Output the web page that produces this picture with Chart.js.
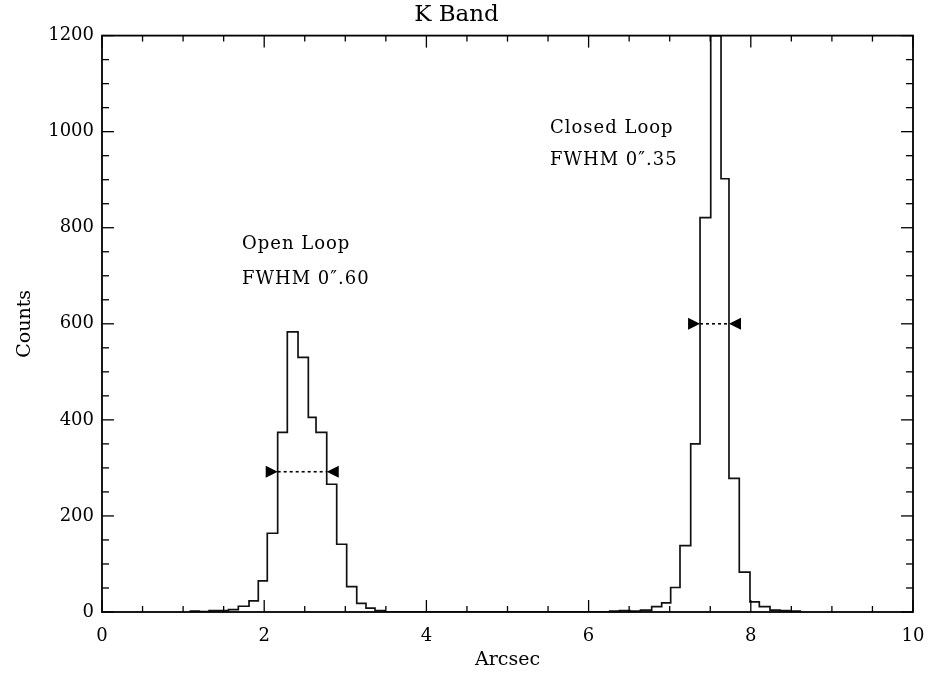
<!DOCTYPE html>
<html><head><meta charset="utf-8">
<script src="https://cdn.jsdelivr.net/npm/chart.js@4.4.1/dist/chart.umd.min.js"></script>
<style>html,body{margin:0;padding:0;background:#fff;}#wrap{width:930px;height:673px;}</style>
</head><body><div id="wrap"><canvas id="c" width="930" height="673"></canvas></div>
<script>
// Histogram bin edges (arcsec) and counts per bin (value i spans edge i .. edge i+1)
const binEdges = [1.08, 1.20, 1.32, 1.44, 1.56, 1.681, 1.813, 1.927, 2.038, 2.166, 2.285, 2.417, 2.544, 2.639, 2.771, 2.894, 3.017, 3.141, 3.255, 3.366, 3.49,
                  6.26, 6.38, 6.51, 6.64, 6.778, 6.901, 7.012, 7.127, 7.259, 7.374, 7.506, 7.633, 7.731, 7.858, 7.990, 8.105, 8.237, 8.36, 8.48, 8.61];
const binCounts = [2, 1, 3, 3, 5, 12, 23, 65, 164, 374, 583, 530, 405, 374, 266, 141, 53, 18, 8, 3, 0,
                   2, 3, 2, 4, 11, 19, 51, 138, 350, 821, 1200, 902, 278, 83, 21, 11, 4, 3, 2];
const xTickLabels = [0, 2, 4, 6, 8, 10];
const yTickLabels = [0, 200, 400, 600, 800, 1000, 1200];
// FWHM markers: level (counts), left and right half-maximum positions (arcsec)
const fwhmLevel = [292, 600];
const fwhmLeft  = [2.166, 7.374];
const fwhmRight = [2.771, 7.731];
const peakNames = ["Open Loop", "Closed Loop"];
const peakFwhm  = ["FWHM 0\u2033.60", "FWHM 0\u2033.35"];

const points = binEdges.map((e, i) => ({x: e, y: i < binCounts.length ? binCounts[i] : 0}));
const SERIF = "'DejaVu Serif', 'Liberation Serif', serif";

const framePlugin = {
  id: 'frame',
  afterDatasetsDraw(chart, args, opts) {
    const {ctx, chartArea: a, scales: {x, y}} = chart;
    ctx.save();
    ctx.strokeStyle = '#000';
    const seg = (x1, y1, x2, y2) => { ctx.beginPath(); ctx.moveTo(x1, y1); ctx.lineTo(x2, y2); ctx.stroke(); };
    // tick marks (inward, all four sides)
    ctx.lineWidth = 1.3;
    for (let k = 0; k <= 20; k++) {
      const v = k * 0.5, px = x.getPixelForValue(v), L = (k % 4 === 0) ? 12 : 6;
      seg(px, a.bottom, px, a.bottom - L); seg(px, a.top, px, a.top + L);
    }
    for (let k = 0; k <= 24; k++) {
      const v = k * 50, py = y.getPixelForValue(v), L = (k % 4 === 0) ? 12 : 7;
      seg(a.left, py, a.left + L, py); seg(a.right, py, a.right - L, py);
    }
    // frame
    ctx.lineWidth = 1.8;
    ctx.strokeRect(a.left, a.top, a.right - a.left, a.bottom - a.top);
    // FWHM arrows
    ctx.fillStyle = '#000';
    fwhmLevel.forEach((lv, i) => {
      const py = y.getPixelForValue(lv);
      const xl = x.getPixelForValue(fwhmLeft[i]), xr = x.getPixelForValue(fwhmRight[i]);
      ctx.lineWidth = 1.6; ctx.setLineDash([3, 3]);
      seg(xl, py, xr, py);
      ctx.setLineDash([]);
      ctx.beginPath(); ctx.moveTo(xl, py); ctx.lineTo(xl - 12, py - 6); ctx.lineTo(xl - 12, py + 6); ctx.closePath(); ctx.fill();
      ctx.beginPath(); ctx.moveTo(xr, py); ctx.lineTo(xr + 12, py - 6); ctx.lineTo(xr + 12, py + 6); ctx.closePath(); ctx.fill();
    });
    // peak labels
    ctx.font = '18px ' + SERIF;
    ctx.textAlign = 'left'; ctx.textBaseline = 'alphabetic';
    try { ctx.letterSpacing = '1px'; } catch (e) {}
    opts.labels.forEach((lb, i) => {
      const px = x.getPixelForValue(lb.x);
      ctx.fillText(peakNames[i], px, y.getPixelForValue(lb.y1));
      ctx.fillText(peakFwhm[i], px, y.getPixelForValue(lb.y2));
    });
    ctx.restore();
  }
};

new Chart(document.getElementById('c'), {
  type: 'line',
  data: { datasets: [{ data: points, stepped: 'before', borderColor: '#111', borderWidth: 1.7, pointRadius: 0, fill: false }] },
  options: {
    responsive: false, animation: false, devicePixelRatio: 1,
    layout: { padding: { left: 0, right: 17, top: 0, bottom: 0 } },
    plugins: {
      legend: { display: false }, tooltip: { enabled: false },
      title: { display: true, text: 'K Band', color: '#000', font: { family: SERIF, size: 23, weight: 'normal' }, padding: { top: 1, bottom: 7 } },
      frame: { labels: [ { x: 1.726, y1: 756, y2: 683 }, { x: 5.524, y1: 998, y2: 931 } ] }
    },
    scales: {
      x: {
        type: 'linear', min: 0, max: 10,
        afterBuildTicks: s => { s.ticks = xTickLabels.map(v => ({ value: v })); },
        ticks: { autoSkip: false, maxRotation: 0, color: '#000', padding: 14, font: { family: SERIF, size: 18 }, callback: v => String(v) },
        grid: { display: false, drawTicks: false }, border: { display: false },
        title: { display: true, text: 'Arcsec', color: '#000', font: { family: SERIF, size: 19 }, padding: { top: 0, bottom: 2 } },
        afterFit: s => { s.height = 61; s.paddingLeft = 0; s.paddingRight = 0; }
      },
      y: {
        type: 'linear', min: 0, max: 1200,
        afterBuildTicks: s => { s.ticks = yTickLabels.map(v => ({ value: v })); },
        ticks: { autoSkip: false, color: '#000', padding: 8, font: { family: SERIF, size: 18 }, callback: v => String(v) },
        grid: { display: false, drawTicks: false }, border: { display: false },
        title: { display: true, text: 'Counts', color: '#000', font: { family: SERIF, size: 19 }, padding: { top: 14, bottom: 0 } },
        afterFit: s => { s.width = 102; s.paddingTop = 0; s.paddingBottom = 0; }
      }
    }
  },
  plugins: [framePlugin]
});
</script></body></html>
